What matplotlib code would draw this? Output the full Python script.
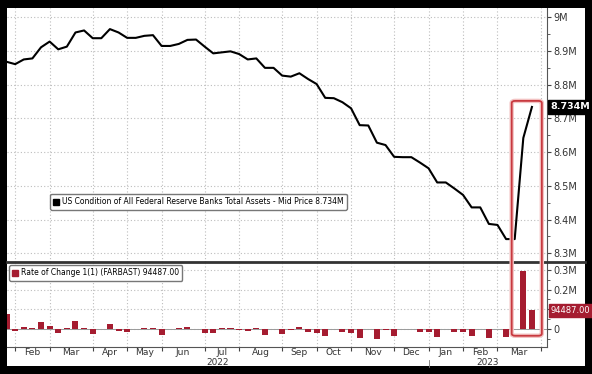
import numpy as np
import pandas as pd
import matplotlib
matplotlib.use('Agg')
import matplotlib.pyplot as plt
from matplotlib.lines import Line2D
from matplotlib.patches import Rectangle, FancyBboxPatch
from matplotlib.ticker import MultipleLocator
from matplotlib.transforms import blended_transform_factory

# weekly Fed balance sheet (millions of millions = M)
dates = pd.date_range('2022-01-26', periods=62, freq='7D')

assets = [8.868, 8.861, 8.875, 8.878, 8.911, 8.928, 8.905, 8.913, 8.955, 8.961,
          8.938, 8.938, 8.965, 8.955, 8.939, 8.939, 8.945, 8.947, 8.915, 8.915,
          8.921, 8.933, 8.934, 8.913, 8.893, 8.896, 8.899, 8.891, 8.875, 8.878,
          8.850, 8.850, 8.827, 8.824, 8.834, 8.817, 8.802, 8.761, 8.760, 8.748,
          8.730, 8.680, 8.679, 8.628, 8.621, 8.586, 8.585, 8.585, 8.569, 8.552,
          8.510, 8.510, 8.492, 8.473, 8.436, 8.436, 8.387, 8.384, 8.342, 8.342,
          8.642, 8.734]

# rate of change 1(1), weekly
change = [0.076, -0.008, 0.012, 0.003, 0.034, 0.016, -0.022, 0.007, 0.042, 0.007,
          -0.025, 0.001, 0.026, -0.010, -0.017, -0.001, 0.003, 0.005, -0.030, 0.001,
          0.005, 0.012, 0.001, -0.019, -0.022, 0.003, 0.003, -0.007, -0.012, 0.003,
          -0.029, 0.000, -0.027, -0.003, 0.009, -0.017, -0.019, -0.036, -0.001, -0.014,
          -0.019, -0.047, -0.001, -0.051, -0.005, -0.037, 0.000, 0.000, -0.017, -0.014,
          -0.042, 0.000, -0.017, -0.017, -0.037, 0.000, -0.047, -0.002, -0.039, 0.001,
          0.292, 0.094487]

top_ticks = [8.3, 8.4, 8.5, 8.6, 8.7, 8.8, 8.9, 9.0]
top_labels = ['8.3M', '8.4M', '8.5M', '8.6M', '8.7M', '8.8M', '8.9M', '9M']
bot_ticks = [0, 0.1, 0.2, 0.3]
bot_labels = ['0', '', '0.2M', '0.3M']

line_label = 'US Condition of All Federal Reserve Banks Total Assets - Mid Price 8.734M'
bar_label = 'Rate of Change 1(1) (FARBAST) 94487.00'
last_tag = '8.734M'
bar_tag = '94487.00'

plt.rcParams['font.family'] = ['Liberation Sans Narrow', 'DejaVu Sans']

RED = '#a51c30'
GRID = '#bdbdbd'
W, H = 592, 374

x = np.arange(len(dates))

# month boundaries (first point of each month) and label centres
month_id = dates.year * 12 + dates.month
starts = [i for i in range(1, len(dates)) if month_id[i] != month_id[i - 1]] + [len(dates)]
xlim = (0.05, 62.75)
centres = [(a + b) / 2 for a, b in zip(starts[:-1], starts[1:])]
first_month = dates[0] + pd.offsets.MonthBegin(1)
month_names = [(first_month + pd.DateOffset(months=k)).strftime('%b') for k in range(len(centres))]

fig = plt.figure(figsize=(W / 100, H / 100), dpi=100, facecolor='black')
fig.add_artist(Rectangle((7 / W, 1 - 366 / H), 578 / W, 358 / H,
                         transform=fig.transFigure, facecolor='white', zorder=0))

ax1 = fig.add_axes([7 / W, 1 - 262 / H, 540 / W, 254 / H], facecolor='none')
ax2 = fig.add_axes([7 / W, 1 - 347 / H, 540 / W, 84 / H], facecolor='none', sharex=ax1)

# top panel: total assets
ax1.plot(x, assets, color='black', lw=1.5, zorder=3)
ax1.set_ylim(8.274, 9.0276)
ax1.yaxis.tick_right()
ax1.set_yticks(top_ticks)
ax1.set_yticklabels(top_labels)
ax1.yaxis.set_minor_locator(MultipleLocator(0.05))
ax1.tick_params(axis='y', which='both', direction='out', color='#444',
                labelcolor='#333', labelsize=7, pad=1.5)
ax1.tick_params(axis='y', which='major', length=3)
ax1.tick_params(axis='y', which='minor', length=2)
for s in ['left', 'top', 'bottom']:
    ax1.spines[s].set_visible(False)
ax1.spines['right'].set_color('#555')
ax1.spines['right'].set_linewidth(0.8)

ax1.legend(handles=[Line2D([], [], marker='s', color='black', ls='none', ms=4.5)],
           labels=[line_label], loc='upper left', bbox_to_anchor=(0.0796, 0.268),
           fontsize=5.5, frameon=True, edgecolor='#777', framealpha=1, fancybox=True,
           borderpad=0.45, handletextpad=0.3, handlelength=0.8, borderaxespad=0)

trans1 = blended_transform_factory(ax1.transAxes, ax1.transData)
ax1.text(1.006, assets[-1], last_tag, transform=trans1, ha='left', va='center',
         color='white', fontsize=6.8, fontweight='bold', clip_on=False,
         bbox=dict(boxstyle='square,pad=0.25', fc='black', ec='black'))

# bottom panel: weekly change
ax2.bar(x, change, width=0.7, color=RED, zorder=3)
ax2.axhline(0, color='#9a9a9a', lw=0.7, zorder=2)
ax2.set_ylim(-0.091, 0.335)
ax2.yaxis.tick_right()
ax2.set_yticks(bot_ticks)
ax2.set_yticklabels(bot_labels)
ax2.yaxis.set_minor_locator(MultipleLocator(0.05))
ax2.tick_params(axis='y', which='both', direction='out', color='#444',
                labelcolor='#333', labelsize=7, pad=1.5)
ax2.tick_params(axis='y', which='major', length=3)
ax2.tick_params(axis='y', which='minor', length=2)
ax2.set_xticks(starts)
ax2.set_xticks(centres, minor=True)
ax2.set_xticklabels(month_names, minor=True)
ax2.tick_params(axis='x', which='major', length=3, color='#444', labelbottom=False)
ax2.tick_params(axis='x', which='minor', length=0, labelsize=6.6, labelcolor='#333', pad=0.6)
for s in ['left', 'top']:
    ax2.spines[s].set_visible(False)
for s in ['right', 'bottom']:
    ax2.spines[s].set_color('#555')
    ax2.spines[s].set_linewidth(0.8)
ax2.grid(True, which='major', ls=(0, (1, 2)), color=GRID, lw=0.8)
ax2.set_xlim(xlim)

# shared x axis: hide the month labels on the top panel
ax1.tick_params(axis='x', which='both', length=0, labelbottom=False)
ax1.grid(True, which='major', ls=(0, (1, 2)), color=GRID, lw=0.8)

ax2.legend(handles=[Line2D([], [], marker='s', color=RED, ls='none', ms=4.5)],
           labels=[bar_label], loc='upper left', bbox_to_anchor=(0.0037, 0.976),
           fontsize=5.5, frameon=True, edgecolor='#777', framealpha=1, fancybox=True,
           borderpad=0.45, handletextpad=0.3, handlelength=0.8, borderaxespad=0)

trans2 = blended_transform_factory(ax2.transAxes, ax2.transData)
ax2.text(1.006, change[-1], bar_tag, transform=trans2, ha='left', va='center',
         color='white', fontsize=6.0, clip_on=False,
         bbox=dict(boxstyle='square,pad=0.2', fc=RED, ec=RED))

# year labels under the months
year_split = [i for i in range(1, len(dates)) if dates[i].year != dates[i - 1].year][0]
tx = blended_transform_factory(ax2.transData, ax2.transAxes)
ax2.text((xlim[0] + year_split) / 2, -0.19, str(dates[0].year), transform=tx,
         ha='center', va='center', fontsize=6.4, color='#333')
ax2.text((year_split + xlim[1]) / 2, -0.19, str(dates[-1].year), transform=tx,
         ha='center', va='center', fontsize=6.4, color='#333')
ax2.plot([year_split, year_split], [-0.15, -0.24], transform=tx, clip_on=False,
         color='#777', lw=0.6)

# panel separator
fig.add_artist(Line2D([7 / W, 585 / W], [1 - 262 / H] * 2, transform=fig.transFigure,
                      color='#333', lw=2))

# red highlight box round the last weeks
to_fig = fig.transFigure.inverted()
x0, y1 = to_fig.transform(ax1.transData.transform((58.65, 8.752)))
x1, y0 = to_fig.transform(ax2.transData.transform((62.15, -0.034)))
for lw, ec in [(3.2, '#f3c4c4'), (1.3, '#c8393f')]:
    fig.add_artist(FancyBboxPatch((x0, y0), x1 - x0, y1 - y0,
                                  boxstyle='round,pad=0,rounding_size=0.006',
                                  transform=fig.transFigure, fill=False, ec=ec, lw=lw, zorder=5))

fig.savefig('out.png', dpi=100, facecolor='black')
